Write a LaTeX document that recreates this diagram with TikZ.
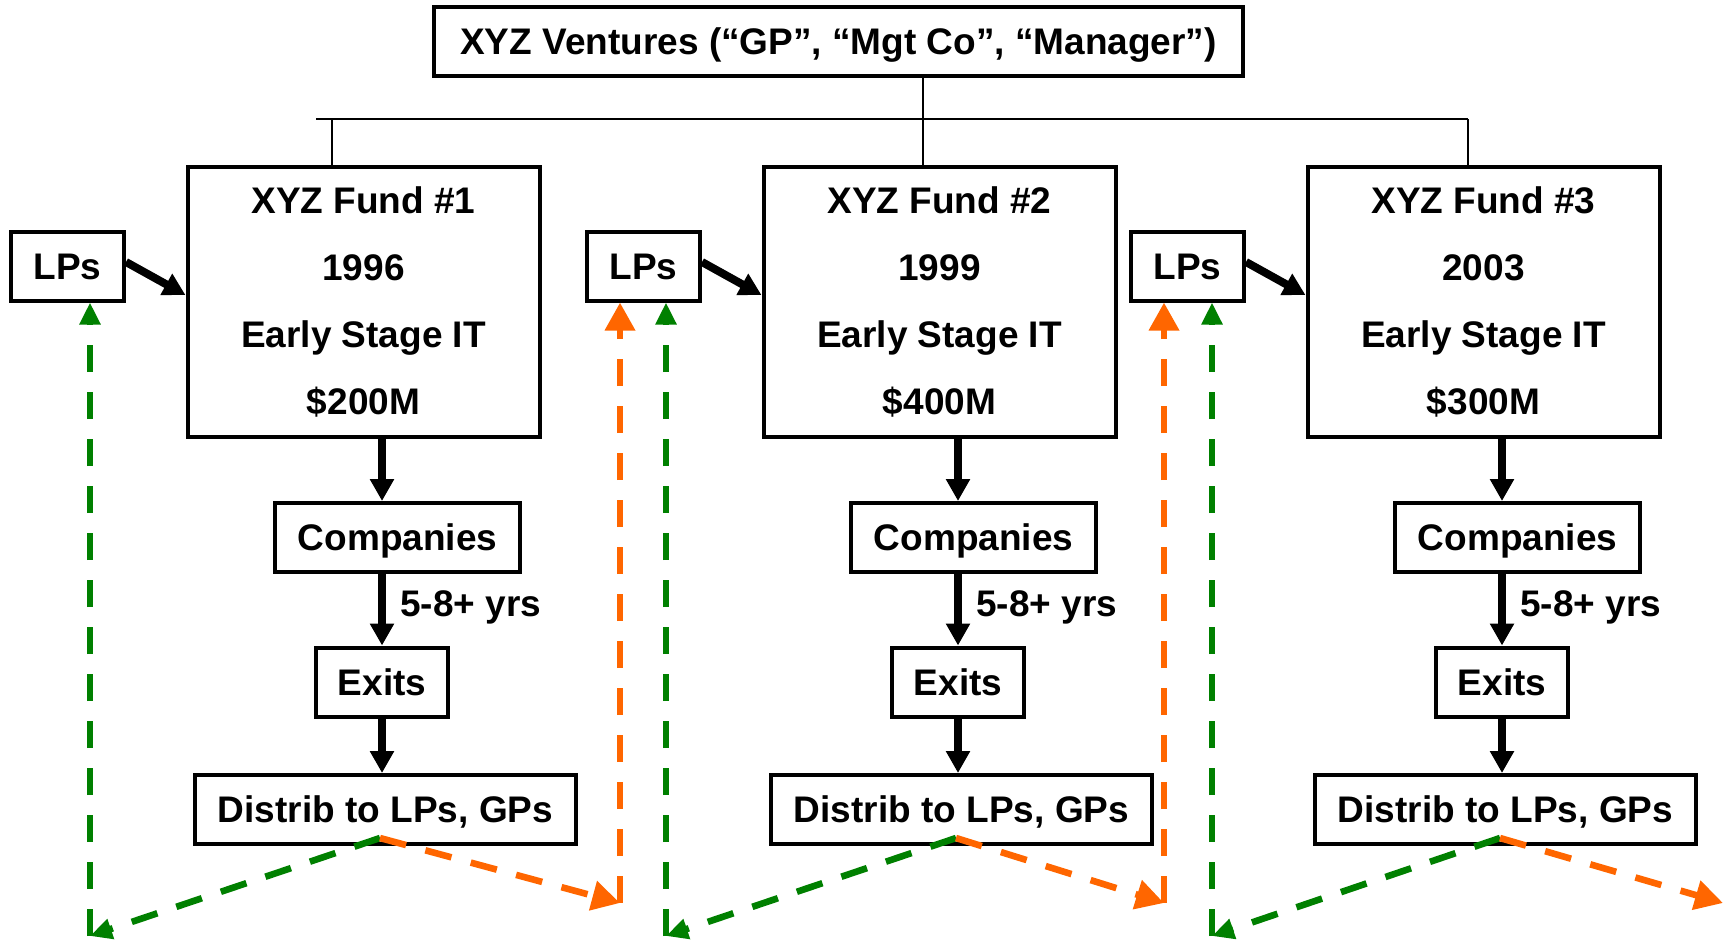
\documentclass[tikz,border=0pt]{standalone}
\usepackage{fontspec}
\setmainfont{Liberation Sans}
\usepackage{xcolor}
\usepackage{tikz}
\usetikzlibrary{arrows.meta}
\definecolor{lpgreen}{RGB}{0,128,0}
\definecolor{gporange}{RGB}{255,102,0}
\tikzset{rounded corners=0,
	box/.style={draw,line width=2pt,minimum height=34.5pt,inner sep=0pt,text height=13.3pt,text depth=0pt},
	fund/.style={draw,line width=2pt,minimum width=176pt,minimum height=135pt,align=center},
	flow/.style={-{Triangle[width=11.5pt,length=11pt]},line width=4pt},
	back/.style={line width=3.3pt,dash pattern=on 13.5pt off 10pt},
	tolp/.style={back,lpgreen,-{Triangle[width=10pt,length=11pt]}},
	togp/.style={back,gporange,-{Triangle[width=14.5pt,length=14pt]}}}

\begin{document}
\begin{tikzpicture}[x=.5pt,y=-.5pt,font=\fontsize{18.5}{33.5}\selectfont\bfseries]
	\useasboundingbox (0,0) rectangle (1727,939);
	\node[box,minimum width=404.5pt] (top) at (838.5,41.5) {XYZ Ventures (“GP”, “Mgt Co”, “Manager”)};
	\coordinate (bus) at (923,119);
	\coordinate (busL) at (316,119);
	\coordinate (busR) at (1468,119);
	\draw[line width=1pt] (top.south -| bus)--(bus);
	\draw[line width=1pt] (busL)--(busR);
	\node[fund] (fund1) at (363.5,302) {XYZ Fund \#1\\1996\\Early Stage IT\\\$200M};
	\node[fund] (fund2) at (939.5,302) {XYZ Fund \#2\\1999\\Early Stage IT\\\$400M};
	\node[fund] (fund3) at (1483.5,302) {XYZ Fund \#3\\2003\\Early Stage IT\\\$300M};
	\draw[line width=1pt] (331.5,119)--(fund1.north -| 331.5,0);
	\draw[line width=1pt] (bus)--(fund2.north -| bus);
	\draw[line width=1pt] (busR)--(fund3.north -| busR);
	\node[box,minimum width=56.5pt] (lp1) at (67.5,266) {LPs};
	\node[box,minimum width=56.5pt] (lp2) at (643.5,266) {LPs};
	\node[box,minimum width=56.5pt] (lp3) at (1187.5,266) {LPs};
	\draw[flow] ([yshift=2pt]lp1.east)--([yshift=3.5pt]fund1.west);
	\draw[flow] ([yshift=2pt]lp2.east)--([yshift=3.5pt]fund2.west);
	\draw[flow] ([yshift=2pt]lp3.east)--([yshift=3.5pt]fund3.west);
	\node[box,minimum width=122.5pt] (comp1) at (397.5,537.5) {Companies};
	\node[box,minimum width=122.5pt] (comp2) at (973.5,537.5) {Companies};
	\node[box,minimum width=122.5pt] (comp3) at (1517.5,537.5) {Companies};
	\node[box,minimum width=66pt] (exit1) at (382,682) {Exits};
	\node[box,minimum width=66pt] (exit2) at (958,682) {Exits};
	\node[box,minimum width=66pt] (exit3) at (1502,682) {Exits};
	\node[box,minimum width=190.5pt] (dist1) at (385.5,809.5) {Distrib to LPs, GPs};
	\node[box,minimum width=190.5pt] (dist2) at (961.5,809.5) {Distrib to LPs, GPs};
	\node[box,minimum width=190.5pt] (dist3) at (1505.5,809.5) {Distrib to LPs, GPs};
	\draw[flow] (fund1.south -| exit1)--(comp1.north -| exit1);
	\draw[flow] (comp1.south -| exit1)--(exit1.north);
	\draw[flow] (exit1.south)--(dist1.north -| exit1);
	\draw[flow] (fund2.south -| exit2)--(comp2.north -| exit2);
	\draw[flow] (comp2.south -| exit2)--(exit2.north);
	\draw[flow] (exit2.south)--(dist2.north -| exit2);
	\draw[flow] (fund3.south -| exit3)--(comp3.north -| exit3);
	\draw[flow] (comp3.south -| exit3)--(exit3.north);
	\draw[flow] (exit3.south)--(dist3.north -| exit3);
	\node[anchor=base west,inner sep=0] (yrs1) at (400,616) {5-8+ yrs};
	\node[anchor=base west,inner sep=0] (yrs2) at (976,616) {5-8+ yrs};
	\node[anchor=base west,inner sep=0] (yrs3) at (1520,616) {5-8+ yrs};
	\coordinate (fork1) at (380,838);
	\coordinate (fork2) at (956,838);
	\coordinate (fork3) at (1500,838);
	\coordinate (g1) at (90,936);
	\coordinate (g2) at (666,936);
	\coordinate (g3) at (1212,936);
	\coordinate (o1) at (620,903);
	\coordinate (o2) at (1164,903);
	\coordinate (o3) at (1723,903);
	\draw[tolp] (fork1)--(g1);
	\draw[tolp] (g1)--(g1 |- lp1.south);
	\draw[togp] (fork1)--(o1);
	\draw[togp] (o1)--(o1 |- lp2.south);
	\draw[tolp] (fork2)--(g2);
	\draw[tolp] (g2)--(g2 |- lp2.south);
	\draw[togp] (fork2)--(o2);
	\draw[togp] (o2)--(o2 |- lp3.south);
	\draw[tolp] (fork3)--(g3);
	\draw[tolp] (g3)--(g3 |- lp3.south);
	\draw[togp] (fork3)--(o3);
\end{tikzpicture}
\end{document}
